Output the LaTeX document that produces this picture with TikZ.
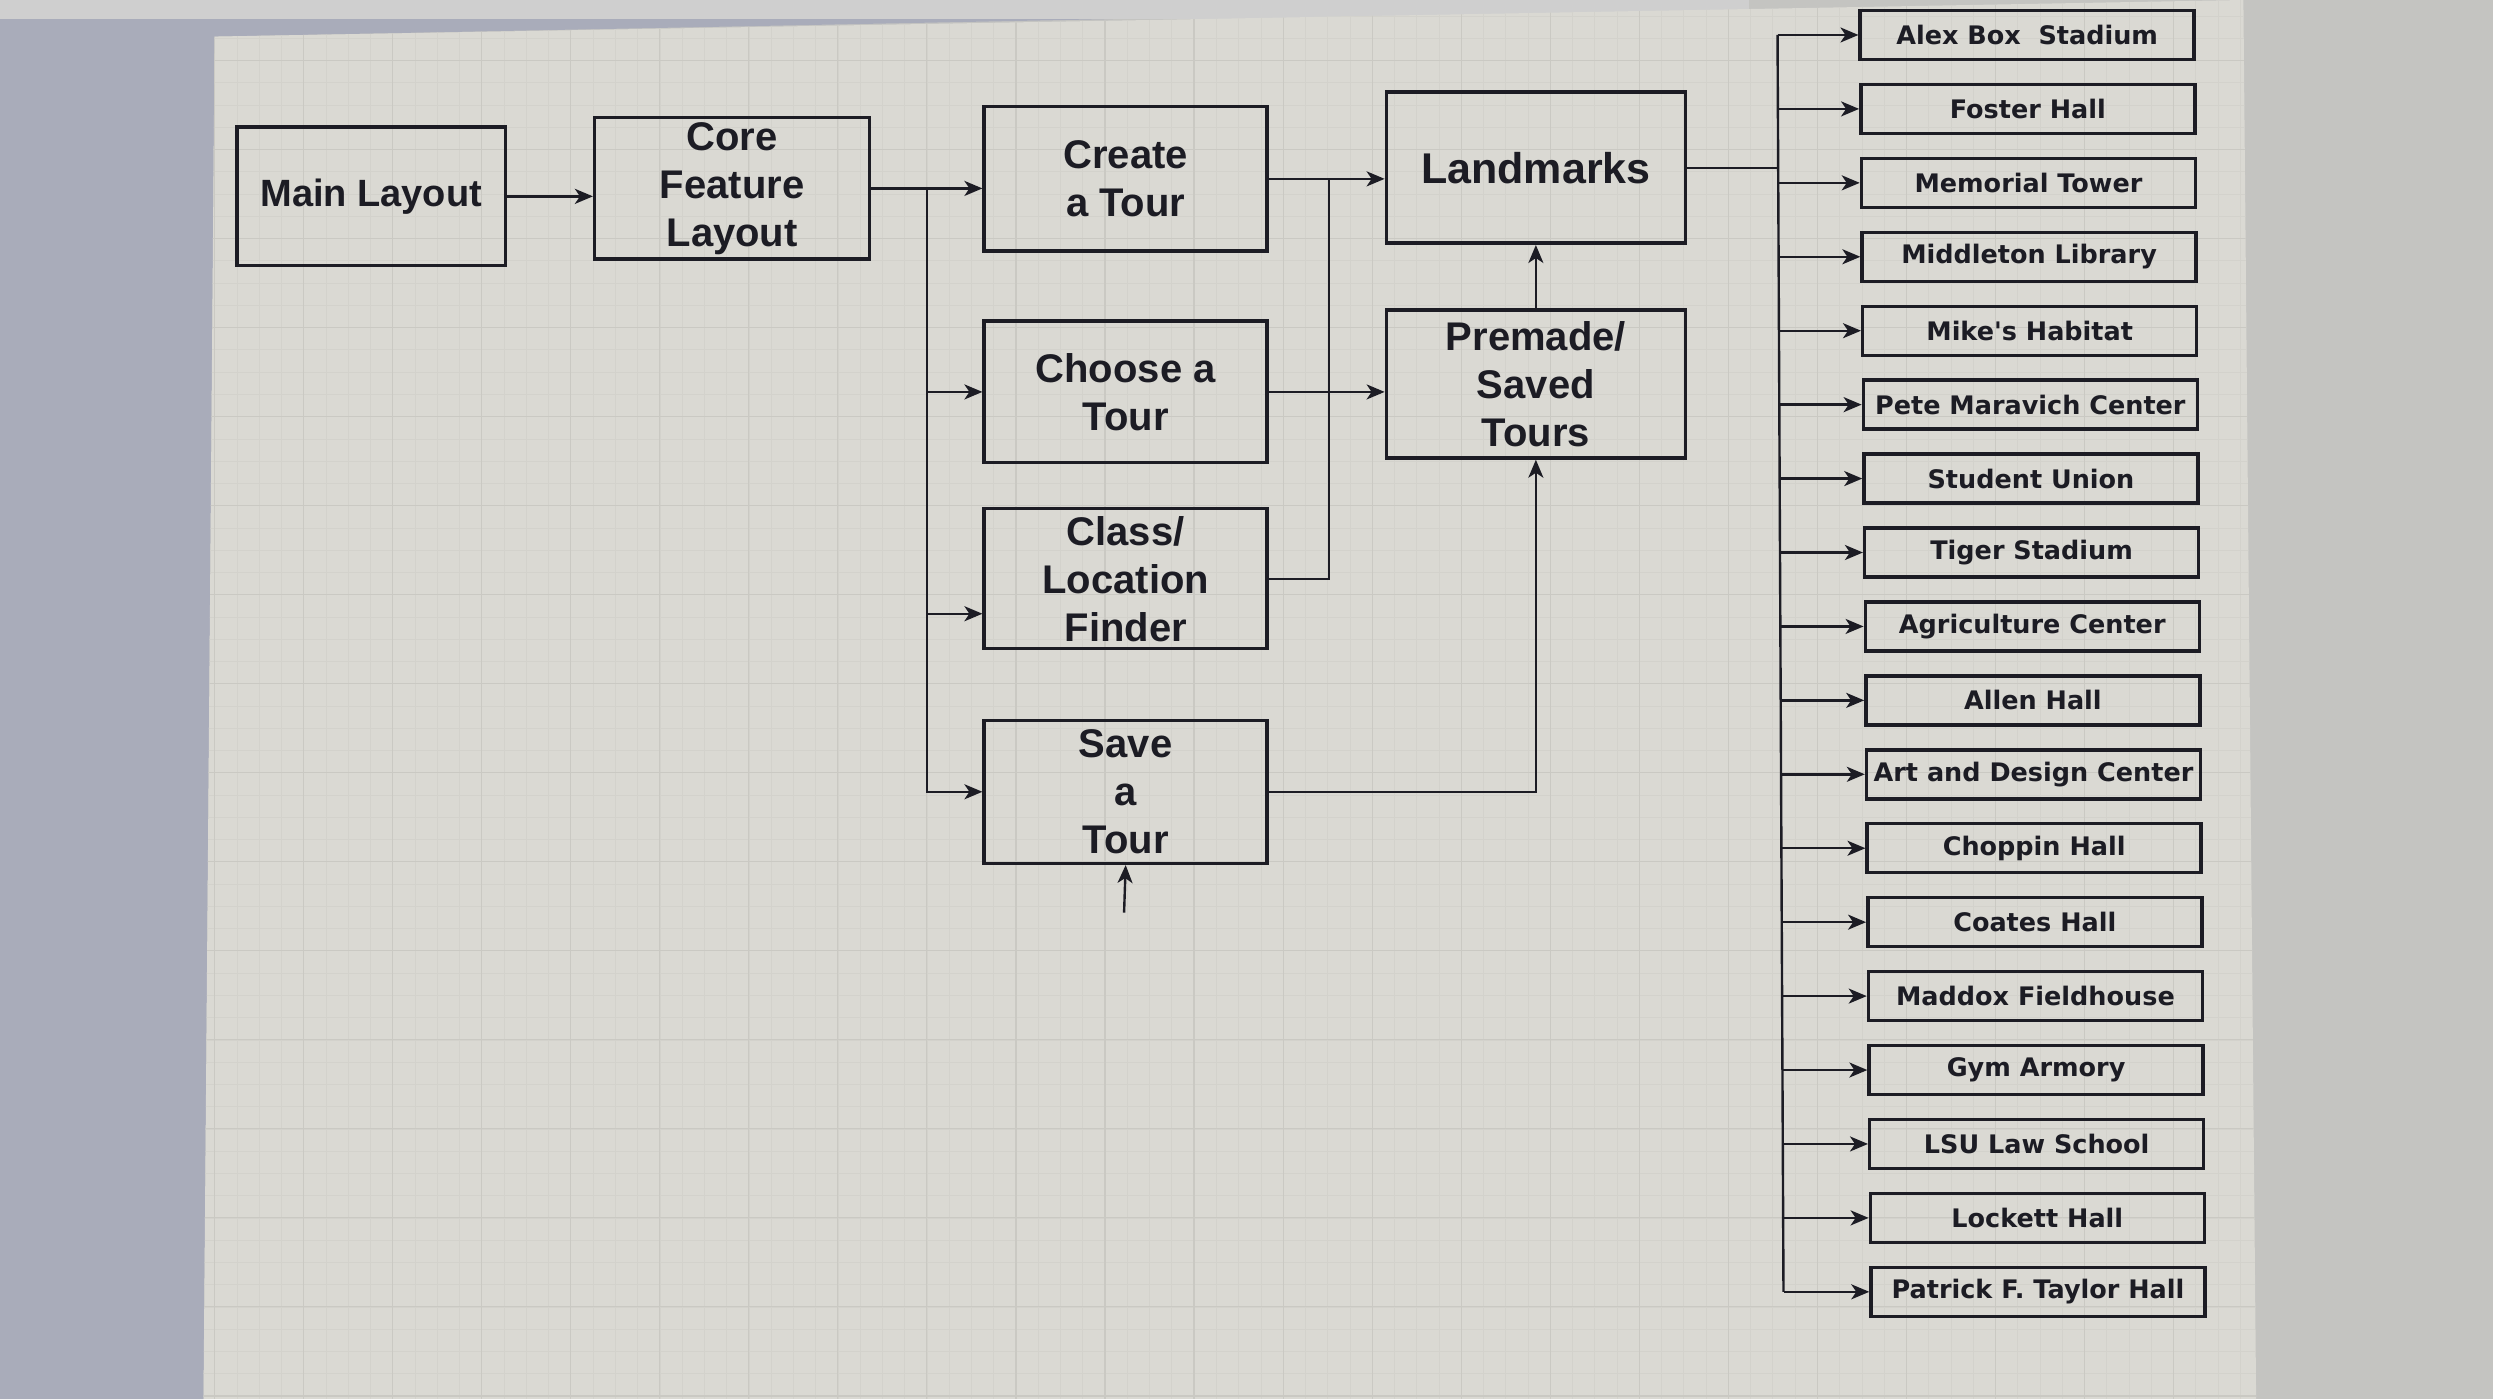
\documentclass[tikz,border=0pt]{standalone}
\usepackage{fontspec}
\setmainfont{Liberation Sans}
\newfontfamily\smallfont{DejaVu Sans}
\usetikzlibrary{arrows.meta}
\definecolor{pagecol}{HTML}{DAD9D3}
\definecolor{gridminor}{HTML}{D3D2CC}
\definecolor{gridmajor}{HTML}{CAC9C3}
\definecolor{marginleft}{HTML}{A9ACBA}
\definecolor{marginright}{HTML}{C4C4C1}
\definecolor{topstrip}{HTML}{CFCFCF}
\definecolor{ink}{HTML}{1C1C24}
\tikzset{
  bigbox/.style={draw=ink, line width=3.5pt, align=center, inner sep=0pt,
    font=\bfseries\fontsize{40}{48}\selectfont, text=ink},
  lmbox/.style={draw=ink, line width=3.4pt, minimum width=334pt, minimum height=49pt,
    inner sep=0pt, font=\smallfont\bfseries\fontsize{25.5}{30}\selectfont, text=ink},
  conn/.style={draw=ink, line width=2.4pt},
  arr/.style={conn, -{Stealth[length=18pt,width=15pt,inset=5pt]}},
}
\begin{document}
\begin{tikzpicture}[x=1.5899pt,y=-1.5899pt]
\useasboundingbox (0,0) rectangle (1568,880);
% background
\fill[marginright] (0,0) rectangle (1568,880);
\fill[marginleft] (0,12) -- (700,12) -- (135,23) -- (128,880) -- (0,880) -- cycle;
\fill[topstrip] (0,0) rectangle (1100,12);
\fill[pagecol] (135,23) -- (700,13) -- (1411,0) -- (1419,880) -- (128,880) -- cycle;
\begin{scope}
  \clip (135,23) -- (700,13) -- (1411,0) -- (1419,880) -- (128,880) -- cycle;
  \foreach \x in {9,23,...,1430} \draw[gridminor, line width=0.6pt] (\x,0) -- (\x,880);
  \foreach \y in {10,24,...,880} \draw[gridminor, line width=0.6pt] (100,\y) -- (1430,\y);
  \foreach \x in {23,79,...,1430} \draw[gridmajor, line width=1.1pt] (\x,0) -- (\x,880);
  \foreach \y in {38,94,...,880} \draw[gridmajor, line width=1.1pt] (100,\y) -- (1430,\y);
\end{scope}

% main nodes
\node[bigbox, minimum width=268.7pt, minimum height=138.3pt, font=\bfseries\fontsize{38}{46}\selectfont] (main) at (233.5,123.5) {Main Layout};
\node[bigbox, minimum width=275pt, minimum height=141.5pt] (core) at (460.5,118.5) {Core\\Feature\\Layout};
\node[bigbox, minimum width=283pt, minimum height=144.7pt] (create) at (708,112.5) {Create\\a Tour};
\node[bigbox, minimum width=283pt, minimum height=141.5pt] (choose) at (708,246.5) {Choose a\\Tour};
\node[bigbox, minimum width=283pt, minimum height=140pt] (classf) at (708,364) {Class/\\Location\\Finder};
\node[bigbox, minimum width=283pt, minimum height=143pt] (save) at (708,498) {Save\\a\\Tour};
\node[bigbox, minimum width=299pt, minimum height=151pt, font=\bfseries\fontsize{43}{50}\selectfont] (landmarks) at (966,105.5) {Landmarks};
\node[bigbox, minimum width=299pt, minimum height=148pt] (premade) at (966,241.5) {Premade/\\Saved\\Tours};

% landmark list
\foreach \t [count=\i from 0] in {Alex Box~~Stadium, Foster Hall, Memorial Tower, Middleton Library,
  Mike's Habitat, Pete Maravich Center, Student Union, Tiger Stadium, Agriculture Center,
  Allen Hall, Art and Design Center, Choppin Hall, Coates Hall, Maddox Fieldhouse,
  Gym Armory, LSU Law School, Lockett Hall, Patrick F. Taylor Hall} {
  \pgfmathsetmacro\yy{22+46.5*\i}
  \pgfmathsetmacro\xx{1275+0.4*\i}
  \pgfmathsetmacro\bx{1118+0.22*\i}
  \node[lmbox] (lm\i) at (\xx,\yy) {\t};
  \coordinate (bus\i) at (\bx,\yy);
  \draw[arr] (bus\i) -- (lm\i.west);
}
\draw[conn] (bus0) -- (bus17);
\draw[conn] (landmarks.east) -- (landmarks.east -| bus0);

% connectors
\coordinate (b1) at (583,118.5);
\coordinate (j1) at (836,112.5);
\coordinate (in) at (707,574);
\draw[arr] (main.east) -- (core.west |- main.east);
\draw[arr] (core.east) -- (create.west |- core.east);
\draw[conn] (core.east) -- (b1);
\draw[arr] (b1) |- (choose.west);
\draw[arr] (b1) |- ([yshift=-35pt]classf.west);
\draw[arr] (b1) |- (save.west);
\draw[arr] (create.east) -- (landmarks.west |- create.east);
\draw[conn] (classf.east) -| (j1);
\draw[arr] (choose.east) -- (premade.west |- choose.east);
\draw[arr] (premade.north) -- (landmarks.south);
\draw[arr] (save.east) -| (premade.south);
\draw[arr] (in) -- (save.south);
\end{tikzpicture}
\end{document}
